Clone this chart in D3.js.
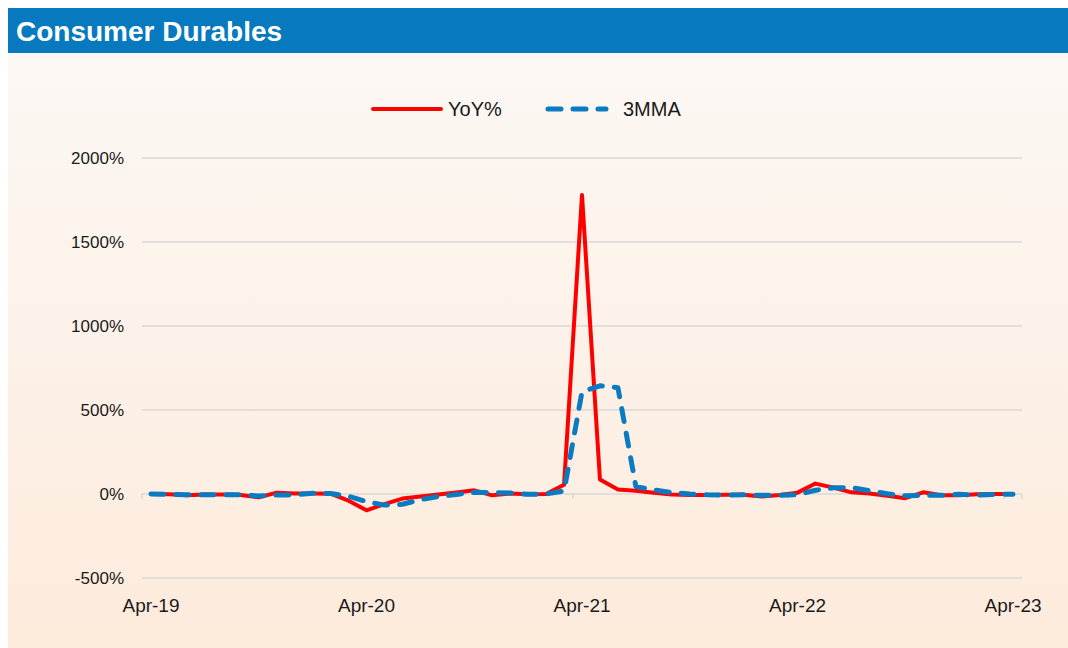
<!DOCTYPE html>
<html lang="en">
<head>
    <meta charset="UTF-8">
    <title>Consumer Durables</title>
    <script src="https://d3js.org/d3.v7.min.js"></script>
    <style>
        body { margin: 0; background: #ffffff; }
        svg { display: block; font-family: "Liberation Sans", Arial, sans-serif; }
    </style>
</head>
<body>
    <svg width="1068" height="648"></svg>
    <script>
        // monthly, Apr-19 .. Apr-23
        const months = d3.range(49).map(i => new Date(2019, 3 + i, 1));
        const yoy = [0, -2, -8, -3, -3, -6, -20, 8, 3, 3, 2, -40,
                     -97, -60, -27, -15, -3, 9, 22, -8, 3, -2, 0, 55,
                     1780, 86, 27, 20, 8, -3, -6, -6, -5, -4, -15, -6,
                     8, 62, 38, 10, 3, -10, -25, 10, -8, -8, -2, 0, 0];
        const mma = [0, -2, -4, -4, -5, -4, -12, -6, -5, 4, 3, -14,
                     -45, -66, -61, -34, -15, -3, 10, 8, 6, -2, 0, 18,
                     608, 644, 633, 44, 25, 8, 0, -5, -6, -5, -8, -8,
                     -4, 22, 37, 38, 19, 1, -11, -8, -8, -2, -6, -3, -1];
        const yTicks = [-500, 0, 500, 1000, 1500, 2000];
        const xLabelIdx = [0, 12, 24, 36, 48];
        const fmtMonth = d3.timeFormat("%b-%y");

        const svg = d3.select("svg");
        const defs = svg.append("defs");
        const grad = defs.append("linearGradient")
            .attr("id", "bg").attr("x1", 0).attr("y1", 0).attr("x2", 0).attr("y2", 1);
        grad.append("stop").attr("offset", "0%").attr("stop-color", "#fcf8f4");
        grad.append("stop").attr("offset", "100%").attr("stop-color", "#fdebdc");

        svg.append("rect").attr("x", 8).attr("y", 53).attr("width", 1060).attr("height", 595)
            .attr("fill", "url(#bg)");
        svg.append("rect").attr("x", 8).attr("y", 8).attr("width", 1060).attr("height", 45)
            .attr("fill", "#0679bf");
        svg.append("text").attr("x", 16).attr("y", 41)
            .attr("fill", "#fff").attr("font-size", 28).attr("font-weight", "bold")
            .text("Consumer Durables");

        const left = 142, right = 1022;
        const x = d3.scaleBand().domain(d3.range(months.length)).range([left, right]);
        const xc = i => x(i) + x.bandwidth() / 2;
        const y = d3.scaleLinear().domain([-500, 2000]).range([578, 158]);

        // gridlines
        svg.append("g").selectAll("line").data(yTicks).join("line")
            .attr("x1", left).attr("x2", right)
            .attr("y1", d => y(d)).attr("y2", d => y(d))
            .attr("stroke", "#d9d9d9").attr("stroke-width", 1.5);

        // y labels
        svg.append("g").selectAll("text").data(yTicks).join("text")
            .attr("x", 124).attr("y", d => y(d)).attr("dy", "0.35em")
            .attr("text-anchor", "end").attr("font-size", 17).attr("fill", "#1a1a1a")
            .text(d => d + "%");

        // tick marks on zero line
        svg.append("g").selectAll("line").data([0, 12, 24, 36, 48]).join("line")
            .attr("x1", d => x(d)).attr("x2", d => x(d))
            .attr("y1", y(0)).attr("y2", y(0) + 5)
            .attr("stroke", "#d9d9d9").attr("stroke-width", 1.5);
        svg.append("line").attr("x1", right).attr("x2", right)
            .attr("y1", y(0)).attr("y2", y(0) + 5)
            .attr("stroke", "#d9d9d9").attr("stroke-width", 1.5);

        // x labels
        svg.append("g").selectAll("text").data(xLabelIdx).join("text")
            .attr("x", d => xc(d)).attr("y", 612)
            .attr("text-anchor", "middle").attr("font-size", 19).attr("fill", "#1a1a1a")
            .text(d => fmtMonth(months[d]));

        const line = d3.line().x((d, i) => xc(i)).y(d => y(d));

        svg.append("path").datum(yoy).attr("d", line)
            .attr("fill", "none").attr("stroke", "#ff0000").attr("stroke-width", 4)
            .attr("stroke-linejoin", "round");
        svg.append("path").datum(mma).attr("d", line)
            .attr("fill", "none").attr("stroke", "#0a7bc1").attr("stroke-width", 5)
            .attr("stroke-dasharray", "13 12").attr("stroke-linecap", "round")
            .attr("stroke-linejoin", "round");

        // legend
        const lg = svg.append("g");
        lg.append("line").attr("x1", 373).attr("x2", 441).attr("y1", 109).attr("y2", 109)
            .attr("stroke", "#ff0000").attr("stroke-width", 4).attr("stroke-linecap", "round");
        lg.append("text").attr("x", 448).attr("y", 109).attr("dy", "0.35em")
            .attr("font-size", 20).attr("fill", "#1a1a1a").text("YoY%");
        lg.append("line").attr("x1", 548).attr("x2", 606).attr("y1", 109).attr("y2", 109)
            .attr("stroke", "#0a7bc1").attr("stroke-width", 5).attr("stroke-linecap", "round")
            .attr("stroke-dasharray", "13 12");
        lg.append("text").attr("x", 623).attr("y", 109).attr("dy", "0.35em")
            .attr("font-size", 20).attr("fill", "#1a1a1a").text("3MMA");
    </script>
</body>
</html>
